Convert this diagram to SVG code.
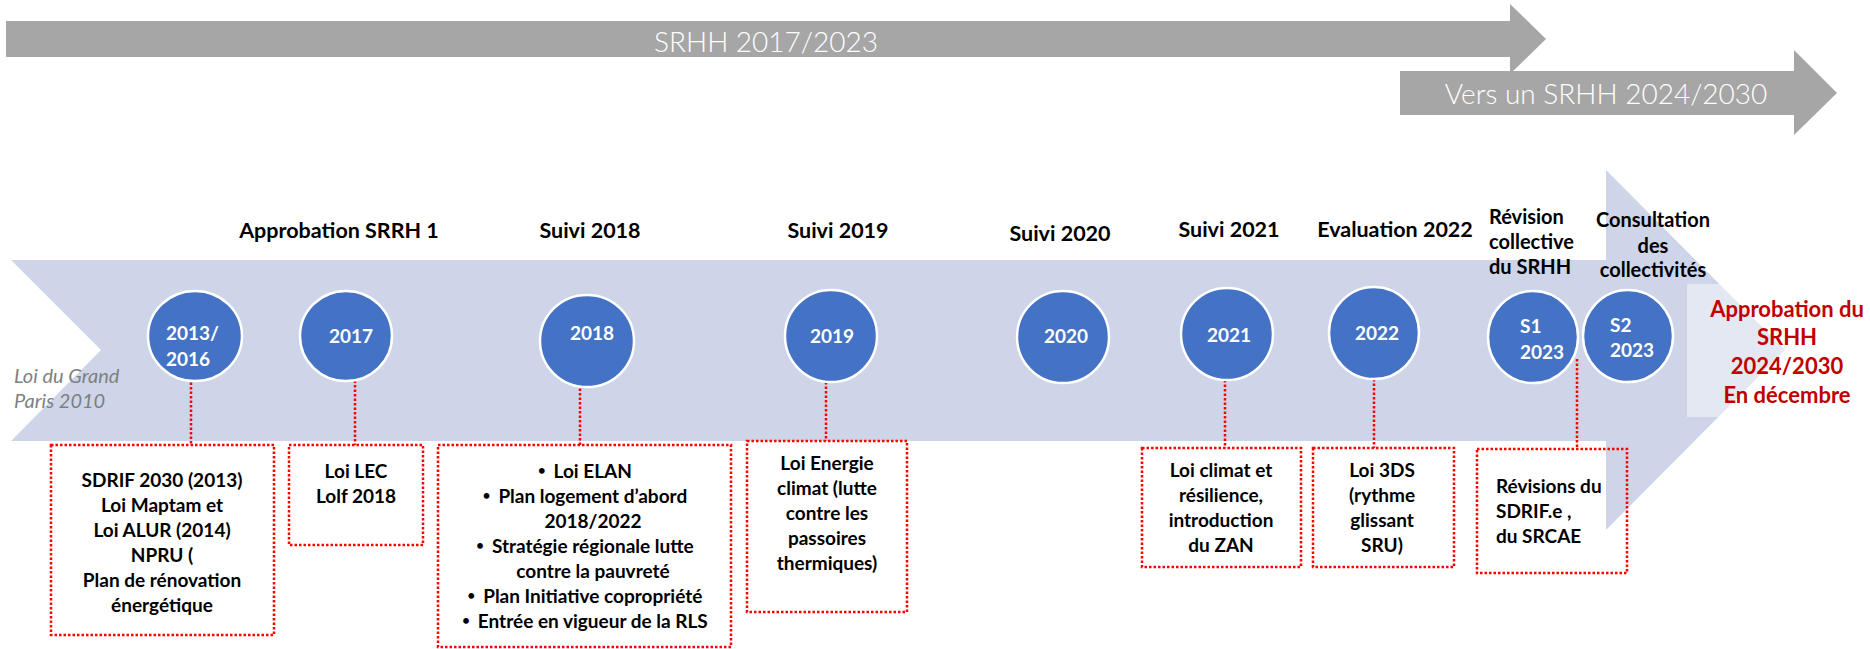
<svg xmlns="http://www.w3.org/2000/svg" width="1870" height="649" viewBox="0 0 1870 649">
  <style>
    .band { fill: #A6A6A6; }
    .bandtxt { font-family: Lato, "Liberation Sans", sans-serif; font-weight: 300; font-size: 28px; fill: #FFFFFF; text-anchor: middle; }
    .track { fill: #CED5E8; }
    .dot { fill: #4472C4; stroke: #FFFFFF; stroke-width: 2.5; }
    .yr { font-family: Lato, "Liberation Sans", sans-serif; font-weight: 700; font-size: 19px; fill: #FFFFFF; }
    .mid { text-anchor: middle; }
    .ttl { font-family: Lato, "Liberation Sans", sans-serif; font-weight: 700; font-size: 21.5px; fill: #000000; }
    .ttl2 { font-family: Lato, "Liberation Sans", sans-serif; font-weight: 700; font-size: 20px; fill: #000000; }
    .box { fill: none; stroke: #FF0000; stroke-width: 2.5; stroke-dasharray: 2.5 2; }
    .boxtxt { font-family: Lato, "Liberation Sans", sans-serif; font-weight: 700; font-size: 19px; fill: #000000; }
    .bul { font-size: 13px; }
    .link { fill: none; stroke: #FF0000; stroke-width: 2.5; stroke-dasharray: 2.5 2; }
    .note { font-family: Lato, "Liberation Sans", sans-serif; font-style: italic; font-size: 20px; fill: #7F7F7F; }
    .goal { font-family: Lato, "Liberation Sans", sans-serif; font-weight: 700; font-size: 22px; fill: #C00000; text-anchor: middle; }
  </style>

  <!-- period bands -->
  <g id="band-2017-2023">
    <polygon class="band" points="6,21 1510,21 1510,4 1546,39 1510,74 1510,57 6,57"/>
    <text class="bandtxt" x="766" y="52">SRHH 2017/2023</text>
  </g>
  <g id="band-2024-2030">
    <polygon class="band" points="1400,71 1794,71 1794,50 1837,93 1794,135 1794,115 1400,115"/>
    <text class="bandtxt" x="1606" y="104">Vers un SRHH 2024/2030</text>
  </g>

  <!-- timeline track -->
  <g id="track">
    <polygon class="track" points="11,260 1606,260 1606,170 1785,350 1606,530 1606,441 11,441 101,350"/>
    <rect x="1687" y="284" width="183" height="133" fill="#FFFFFF" fill-opacity="0.45"/>
  </g>

  <g id="origin">
    <text class="note" x="14" y="383">Loi du Grand</text>
    <text class="note" x="14" y="408">Paris 2010</text>
  </g>

  <!-- stage titles -->
  <g id="titles">
    <text class="ttl mid" x="339" y="238">Approbation SRRH 1</text>
    <text class="ttl mid" x="590" y="238">Suivi 2018</text>
    <text class="ttl mid" x="838" y="238">Suivi 2019</text>
    <text class="ttl mid" x="1060" y="241">Suivi 2020</text>
    <text class="ttl mid" x="1229" y="237">Suivi 2021</text>
    <text class="ttl mid" x="1395" y="237">Evaluation 2022</text>
    <text class="ttl2" x="1489" y="224">Révision</text>
    <text class="ttl2" x="1489" y="249">collective</text>
    <text class="ttl2" x="1489" y="274">du SRHH</text>
    <text class="ttl2 mid" x="1653" y="227">Consultation</text>
    <text class="ttl2 mid" x="1653" y="253">des</text>
    <text class="ttl2 mid" x="1653" y="277">collectivités</text>
  </g>

  <!-- connectors -->
  <g id="connectors">
    <line class="link" x1="191" y1="378" x2="191" y2="445"/>
    <line class="link" x1="355" y1="376" x2="355" y2="445"/>
    <line class="link" x1="580" y1="375" x2="580" y2="445"/>
    <line class="link" x1="826" y1="382" x2="826" y2="441"/>
    <line class="link" x1="1225" y1="380" x2="1225" y2="448"/>
    <line class="link" x1="1374" y1="379" x2="1374" y2="448"/>
    <line class="link" x1="1577" y1="359" x2="1577" y2="449"/>
  </g>

  <!-- milestones -->
  <g id="m-2013-2016">
    <ellipse class="dot" cx="195" cy="336" rx="47" ry="45"/>
    <text class="yr" x="166" y="340">2013/</text>
    <text class="yr" x="166" y="366">2016</text>
  </g>
  <g id="m-2017">
    <ellipse class="dot" cx="346" cy="336" rx="46" ry="45"/>
    <text class="yr mid" x="351" y="343">2017</text>
  </g>
  <g id="m-2018">
    <ellipse class="dot" cx="587" cy="341" rx="47" ry="46"/>
    <text class="yr mid" x="592" y="340">2018</text>
  </g>
  <g id="m-2019">
    <ellipse class="dot" cx="831" cy="336" rx="46" ry="46"/>
    <text class="yr mid" x="832" y="343">2019</text>
  </g>
  <g id="m-2020">
    <ellipse class="dot" cx="1063" cy="337" rx="46" ry="46"/>
    <text class="yr mid" x="1066" y="343">2020</text>
  </g>
  <g id="m-2021">
    <ellipse class="dot" cx="1227" cy="334" rx="46" ry="46"/>
    <text class="yr mid" x="1229" y="342">2021</text>
  </g>
  <g id="m-2022">
    <ellipse class="dot" cx="1374" cy="333" rx="45" ry="46"/>
    <text class="yr mid" x="1377" y="340">2022</text>
  </g>
  <g id="m-s1-2023">
    <ellipse class="dot" cx="1533" cy="337" rx="45" ry="46"/>
    <text class="yr" x="1520" y="333">S1</text>
    <text class="yr" x="1520" y="359">2023</text>
  </g>
  <g id="m-s2-2023">
    <ellipse class="dot" cx="1628" cy="336" rx="45" ry="46"/>
    <text class="yr" x="1610" y="332">S2</text>
    <text class="yr" x="1610" y="357">2023</text>
  </g>

  <g id="goal">
    <text class="goal" x="1787" y="317">Approbation du</text>
    <text class="goal" x="1787" y="345">SRHH</text>
    <text class="goal" x="1787" y="374">2024/2030</text>
    <text class="goal" x="1787" y="403">En décembre</text>
  </g>

  <!-- detail boxes -->
  <g id="d-2013-2016">
    <rect class="box" x="51" y="445" width="223" height="190"/>
    <text class="boxtxt mid" x="162" y="487">SDRIF 2030 (2013)</text>
    <text class="boxtxt mid" x="162" y="512">Loi Maptam et</text>
    <text class="boxtxt mid" x="162" y="537">Loi ALUR (2014)</text>
    <text class="boxtxt mid" x="162" y="562">NPRU (</text>
    <text class="boxtxt mid" x="162" y="587">Plan de rénovation</text>
    <text class="boxtxt mid" x="162" y="612">énergétique</text>
  </g>
  <g id="d-2017">
    <rect class="box" x="289" y="445" width="134" height="100"/>
    <text class="boxtxt mid" x="356" y="478">Loi LEC</text>
    <text class="boxtxt mid" x="356" y="503">Lolf 2018</text>
  </g>
  <g id="d-2018">
    <rect class="box" x="438" y="445" width="293" height="202"/>
    <text class="boxtxt mid" x="585" y="478"><tspan class="bul" dy="-3">•</tspan><tspan dx="8" dy="3">Loi ELAN</tspan></text>
    <text class="boxtxt mid" x="585" y="503"><tspan class="bul" dy="-3">•</tspan><tspan dx="8" dy="3">Plan logement d’abord</tspan></text>
    <text class="boxtxt mid" x="593" y="528">2018/2022</text>
    <text class="boxtxt mid" x="585" y="553"><tspan class="bul" dy="-3">•</tspan><tspan dx="8" dy="3">Stratégie régionale lutte</tspan></text>
    <text class="boxtxt mid" x="593" y="578">contre la pauvreté</text>
    <text class="boxtxt mid" x="585" y="603"><tspan class="bul" dy="-3">•</tspan><tspan dx="8" dy="3">Plan Initiative copropriété</tspan></text>
    <text class="boxtxt mid" x="585" y="628"><tspan class="bul" dy="-3">•</tspan><tspan dx="8" dy="3">Entrée en vigueur de la RLS</tspan></text>
  </g>
  <g id="d-2019">
    <rect class="box" x="747" y="441" width="160" height="171"/>
    <text class="boxtxt mid" x="827" y="470">Loi Energie</text>
    <text class="boxtxt mid" x="827" y="495">climat (lutte</text>
    <text class="boxtxt mid" x="827" y="520">contre les</text>
    <text class="boxtxt mid" x="827" y="545">passoires</text>
    <text class="boxtxt mid" x="827" y="570">thermiques)</text>
  </g>
  <g id="d-2021">
    <rect class="box" x="1142" y="448" width="159" height="119"/>
    <text class="boxtxt mid" x="1221" y="477">Loi climat et</text>
    <text class="boxtxt mid" x="1221" y="502">résilience,</text>
    <text class="boxtxt mid" x="1221" y="527">introduction</text>
    <text class="boxtxt mid" x="1221" y="552">du ZAN</text>
  </g>
  <g id="d-2022">
    <rect class="box" x="1313" y="448" width="141" height="119"/>
    <text class="boxtxt mid" x="1382" y="477">Loi 3DS</text>
    <text class="boxtxt mid" x="1382" y="502">(rythme</text>
    <text class="boxtxt mid" x="1382" y="527">glissant</text>
    <text class="boxtxt mid" x="1382" y="552">SRU)</text>
  </g>
  <g id="d-2023">
    <rect class="box" x="1477" y="449" width="150" height="124"/>
    <text class="boxtxt" x="1496" y="493">Révisions du</text>
    <text class="boxtxt" x="1496" y="518">SDRIF.e ,</text>
    <text class="boxtxt" x="1496" y="543">du SRCAE</text>
  </g>
</svg>
